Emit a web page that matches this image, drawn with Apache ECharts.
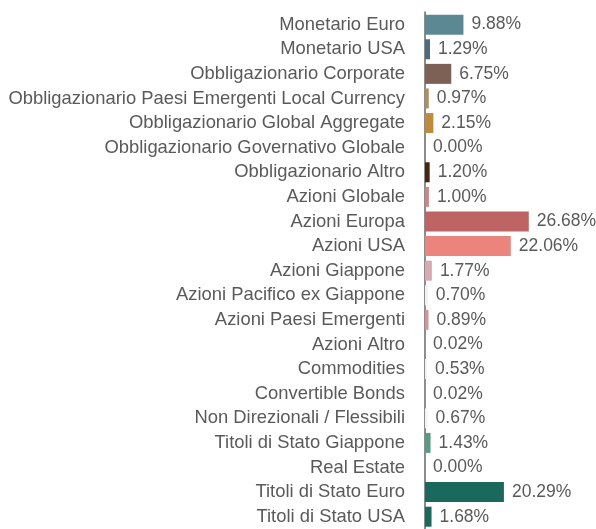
<!DOCTYPE html>
<html>
<head>
<meta charset="utf-8">
<script src="https://cdn.jsdelivr.net/npm/echarts@6/dist/echarts.min.js"></script>
<style>
  html, body { margin: 0; padding: 0; background: #fff; }
  #chart { width: 596px; height: 529px; }
</style>
</head>
<body>
<div id="chart"></div>
<script>
// Asset allocation by category (percent of portfolio)
const categories = [
  'Monetario Euro',
  'Monetario USA',
  'Obbligazionario Corporate',
  'Obbligazionario Paesi Emergenti Local Currency',
  'Obbligazionario Global Aggregate',
  'Obbligazionario Governativo Globale',
  'Obbligazionario Altro',
  'Azioni Globale',
  'Azioni Europa',
  'Azioni USA',
  'Azioni Giappone',
  'Azioni Pacifico ex Giappone',
  'Azioni Paesi Emergenti',
  'Azioni Altro',
  'Commodities',
  'Convertible Bonds',
  'Non Direzionali / Flessibili',
  'Titoli di Stato Giappone',
  'Real Estate',
  'Titoli di Stato Euro',
  'Titoli di Stato USA'
];

const weights = [
  9.88, 1.29, 6.75, 0.97, 2.15, 0.00, 1.20, 1.00, 26.68, 22.06, 1.77,
  0.70, 0.89, 0.02, 0.53, 0.02, 0.67, 1.43, 0.00, 20.29, 1.68
];

// One fill per category, same order as above
const barColors = [
  '#5b8893', '#4b6b7f', '#7d6157', '#b18f5a', '#bf8a3c', '#9a9a9a',
  '#45260f', '#cf8385', '#be6464', '#ec847e', '#d7a9b0', '#f6f0f0',
  '#de8f8f', '#f4f4f4', '#f4f2ee', '#f4f4f4', '#f4f4f4', '#5a9a85',
  '#b0b0b0', '#1b695d', '#1b695d'
];

const textColor = '#5a5a5a';
const fontFamily = '"Liberation Sans", Arial, sans-serif';
const chart = echarts.init(document.getElementById('chart'), null, { renderer: 'canvas' });

chart.setOption({
  animation: false,
  backgroundColor: '#ffffff',
  grid: {
    left: 425,
    top: 12.36,
    height: 518.3,
    width: 155.6,
    containLabel: false
  },
  xAxis: {
    type: 'value',
    min: 0,
    max: 40,
    show: false
  },
  yAxis: {
    type: 'category',
    data: categories,
    inverse: true,
    offset: 1,
    axisLine: { show: true, lineStyle: { color: '#8c8c8c', width: 2 } },
    axisTick: { show: false },
    axisLabel: {
      margin: 19,
      color: textColor,
      fontSize: 18.4,
      fontFamily: fontFamily,
      padding: [5, 0, 0, 0]
    },
    splitLine: { show: false }
  },
  series: [{
    type: 'bar',
    data: weights.map((v, i) => ({ value: v, itemStyle: { color: barColors[i] } })),
    barWidth: 20,
    label: {
      show: true,
      position: 'right',
      distance: 8,
      color: textColor,
      fontSize: 17.5,
      fontFamily: fontFamily,
      padding: [5, 0, 0, 0],
      formatter: p => p.value.toFixed(2) + '%'
    }
  }]
});
</script>
</body>
</html>
